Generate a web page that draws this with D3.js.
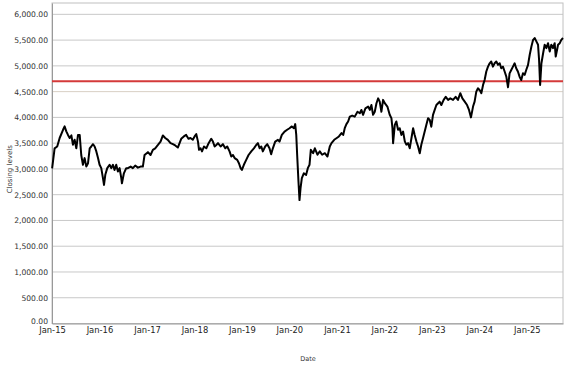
<!DOCTYPE html>
<html><head><meta charset="utf-8">
<script src="https://cdn.jsdelivr.net/npm/d3@7"></script>
<style>
html,body{margin:0;padding:0;background:#fff;}
svg{display:block;font-family:"DejaVu Sans",Verdana,sans-serif;}
</style></head>
<body><svg id="c" width="577" height="367"></svg>
<script>
const dates = [
"2015-01-02","2015-01-21","2015-02-10","2015-03-01","2015-03-27","2015-04-08","2015-04-21","2015-05-04","2015-05-17","2015-05-30",
"2015-06-11","2015-06-24","2015-07-07","2015-07-20","2015-08-02","2015-08-14","2015-08-27","2015-09-09","2015-09-22","2015-10-05",
"2015-10-18","2015-10-30","2015-11-12","2015-11-25","2015-12-08","2015-12-21","2016-01-02","2016-01-15","2016-01-28","2016-02-05",
"2016-02-15","2016-03-01","2016-03-19","2016-04-01","2016-04-14","2016-04-26","2016-05-09","2016-05-22","2016-06-04","2016-06-17",
"2016-06-22","2016-07-07","2016-07-25","2016-08-07","2016-08-28","2016-09-14","2016-10-02","2016-10-23","2016-11-12","2016-11-30",
"2016-12-13","2017-01-08","2017-01-28","2017-02-15","2017-03-05","2017-03-26","2017-04-15","2017-05-03","2017-05-21","2017-06-10",
"2017-07-01","2017-07-19","2017-08-06","2017-08-26","2017-09-21","2017-10-11","2017-10-29","2017-11-16","2017-12-01","2017-12-19",
"2018-01-02","2018-01-15","2018-01-28","2018-02-05","2018-02-17","2018-02-28","2018-03-15","2018-04-02","2018-04-20","2018-05-10",
"2018-05-23","2018-06-05","2018-06-18","2018-07-01","2018-07-21","2018-08-08","2018-08-26","2018-09-10","2018-09-28","2018-10-11",
"2018-10-24","2018-11-06","2018-11-26","2018-12-09","2018-12-22","2019-01-01","2019-01-16","2019-02-03","2019-02-21","2019-03-14",
"2019-04-03","2019-04-21","2019-05-04","2019-05-17","2019-05-30","2019-06-11","2019-06-29","2019-07-15","2019-08-01","2019-08-14",
"2019-08-27","2019-09-14","2019-10-05","2019-10-17","2019-11-04","2019-11-25","2019-12-15","2020-01-02","2020-01-20","2020-02-05",
"2020-02-15","2020-02-23","2020-03-01","2020-03-11","2020-03-19","2020-03-27","2020-04-06","2020-04-21","2020-05-09","2020-05-22",
"2020-06-04","2020-06-14","2020-07-02","2020-07-15","2020-08-04","2020-08-22","2020-09-09","2020-09-30","2020-10-20","2020-11-07",
"2020-11-20","2020-12-11","2020-12-28","2021-01-16","2021-02-05","2021-02-18","2021-03-02","2021-03-15","2021-03-28","2021-04-10",
"2021-04-28","2021-05-18","2021-06-08","2021-06-26","2021-07-08","2021-07-21","2021-08-08","2021-08-29","2021-09-11","2021-09-23",
"2021-10-06","2021-10-19","2021-11-01","2021-11-14","2021-11-26","2021-12-09","2021-12-22","2022-01-04","2022-01-24","2022-02-11",
"2022-02-24","2022-03-04","2022-03-09","2022-03-22","2022-04-03","2022-04-16","2022-04-29","2022-05-12","2022-05-25","2022-06-07",
"2022-06-19","2022-07-02","2022-07-15","2022-07-28","2022-08-10","2022-08-22","2022-09-04","2022-09-17","2022-09-30","2022-10-12",
"2022-10-25","2022-11-07","2022-11-20","2022-12-03","2022-12-16","2022-12-28","2023-01-10","2023-01-23","2023-02-05","2023-02-18",
"2023-03-02","2023-03-15","2023-04-02","2023-04-18","2023-05-06","2023-05-23","2023-06-13","2023-07-03","2023-07-21","2023-08-08",
"2023-08-24","2023-09-11","2023-09-29","2023-10-14","2023-10-29","2023-11-14","2023-11-26","2023-12-09","2023-12-22","2024-01-04",
"2024-01-17","2024-01-30","2024-02-11","2024-02-24","2024-03-08","2024-03-21","2024-04-02","2024-04-15","2024-04-28","2024-05-11",
"2024-05-24","2024-06-06","2024-06-18","2024-07-01","2024-07-14","2024-07-27","2024-08-09","2024-08-21","2024-09-03","2024-09-16",
"2024-09-29","2024-10-11","2024-10-24","2024-11-06","2024-11-19","2024-12-02","2024-12-15","2024-12-27","2025-01-10","2025-01-23",
"2025-02-05","2025-02-18","2025-03-02","2025-03-15","2025-03-28","2025-04-05","2025-04-13","2025-04-23","2025-05-06","2025-05-18",
"2025-05-31","2025-06-13","2025-06-26","2025-07-08","2025-07-21","2025-08-03","2025-08-11","2025-08-16","2025-08-29","2025-09-11",
"2025-09-23","2025-10-06"
];
const closing = [
3010,3400,3435,3600,3760,3825,3730,3660,3600,3650,
3470,3565,3400,3660,3660,3270,3080,3210,3045,3110,
3400,3435,3480,3435,3340,3210,3080,3015,2820,2690,
2885,3015,3080,3015,3080,2980,3080,2950,3015,2820,
2720,2915,3015,3015,3045,3015,3065,3025,3045,3045,
3270,3325,3270,3370,3400,3465,3530,3650,3600,3565,
3500,3480,3455,3415,3585,3630,3660,3585,3600,3565,
3630,3675,3530,3370,3400,3340,3435,3400,3500,3585,
3530,3435,3465,3500,3435,3480,3400,3435,3340,3240,
3270,3210,3175,3110,3015,2980,3080,3175,3270,3340,
3400,3465,3500,3400,3435,3340,3435,3480,3400,3285,
3400,3530,3565,3530,3660,3725,3760,3790,3825,3790,
3870,3660,3270,2755,2395,2625,2820,2915,2885,3015,
3080,3370,3305,3400,3275,3340,3275,3305,3240,3435,
3500,3565,3595,3630,3695,3660,3790,3870,3920,4015,
4035,4015,4110,4080,4145,4050,4175,4210,4145,4240,
4050,4110,4275,4370,4305,4110,4340,4275,4210,4050,
3985,3790,3500,3855,3920,3760,3790,3660,3725,3535,
3470,3500,3400,3595,3790,3660,3535,3435,3305,3470,
3595,3725,3855,3985,3950,3820,4050,4145,4240,4275,
4305,4240,4340,4400,4340,4370,4340,4400,4340,4470,
4370,4305,4240,4145,4000,4210,4305,4500,4565,4530,
4470,4630,4725,4890,4985,5050,5085,4985,5050,5085,
5020,5050,4955,4985,4890,4790,4585,4855,4920,4985,
5050,4955,4890,4790,4725,4855,4825,4920,5020,5215,
5375,5505,5540,5475,5410,5115,4630,5050,5245,5410,
5345,5440,5280,5410,5345,5440,5180,5245,5410,5440,
5505,5540
];
const yTicks = [0,500,1000,1500,2000,2500,3000,3500,4000,4500,5000,5500,6000];
const xTickYears = [2015,2016,2017,2018,2019,2020,2021,2022,2023,2024,2025];
const referenceLevel = [4700];
const yAxisTitle = "Closing levels";
const xAxisTitle = "Date";

const parse = d3.timeParse("%Y-%m-%d");
const data = dates.map((d,i)=>({date:parse(d), value:closing[i]}));

const L=52, R=563, T=3, B=323.5;
const svg = d3.select("#c");
const x = d3.scaleTime().domain([new Date(2015,0,1), parse("2025-10-06")]).range([L,R]);
const y = d3.scaleLinear().domain([0,6220]).range([B,T]);

// gridlines
svg.append("g").selectAll("line").data(yTicks.filter(v=>v>0)).join("line")
  .attr("x1",L).attr("x2",R).attr("y1",d=>y(d)).attr("y2",d=>y(d))
  .attr("stroke",d=>d===4500?"#d9cfc4":"#c8c8c8").attr("stroke-width",1);

// frame
svg.append("rect").attr("x",L).attr("y",T).attr("width",R-L).attr("height",B-T)
  .attr("fill","none").attr("stroke","#c0c0c0").attr("stroke-width",1);

// y axis
const yAxis = d3.axisLeft(y).tickValues(yTicks).tickSize(0).tickPadding(4)
  .tickFormat(d3.format(",.2f"));
const gy = svg.append("g").attr("transform",`translate(${L},0)`).call(yAxis);
gy.select(".domain").attr("stroke","#999");
gy.selectAll("text").attr("font-size","7.6px").attr("fill","#333").attr("font-family","DejaVu Sans, sans-serif");
gy.selectAll(".tick").filter(d=>d===0).select("text").attr("dy","-0.05em");

// x axis
const xAxis = d3.axisBottom(x).tickValues(xTickYears.map(yr=>new Date(yr,0,1)))
  .tickSize(0).tickPadding(4).tickFormat(d3.timeFormat("Jan-%y"));
const gx = svg.append("g").attr("transform",`translate(0,${B})`).call(xAxis);
gx.select(".domain").attr("stroke","#999");
gx.selectAll("text").attr("font-size","8.4px").attr("fill","#222").attr("font-family","DejaVu Sans, sans-serif");

// reference line
svg.append("g").selectAll("line").data(referenceLevel).join("line")
  .attr("x1",L).attr("x2",R).attr("y1",d=>y(d)).attr("y2",d=>y(d))
  .attr("stroke","#d43a3a").attr("stroke-width",2);

// series
const line = d3.line().x(d=>x(d.date)).y(d=>y(d.value));
svg.append("path").datum(data).attr("d",line)
  .attr("fill","none").attr("stroke","#000").attr("stroke-width",2).attr("stroke-linejoin","round");

// titles
svg.append("text").attr("transform",`translate(12,${(T+B)/2+6}) rotate(-90)`)
  .attr("text-anchor","middle").attr("font-size","7px").attr("fill","#333").text(yAxisTitle);
svg.append("text").attr("x",308).attr("y",361).attr("text-anchor","middle")
  .attr("font-size","6.5px").attr("fill","#333").text(xAxisTitle);
</script></body></html>
